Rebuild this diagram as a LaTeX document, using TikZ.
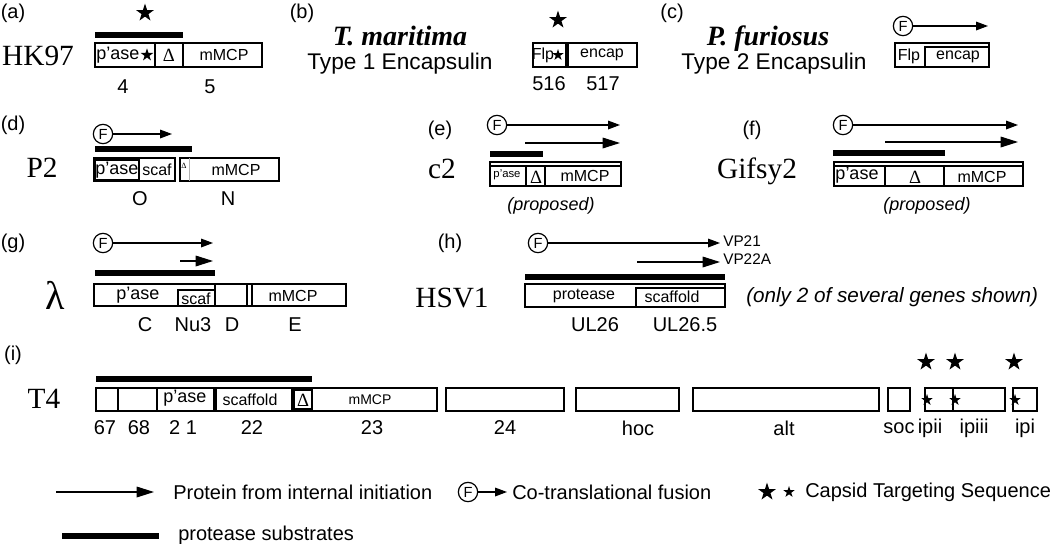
\documentclass[tikz,border=0pt]{standalone}
\usepackage{fontspec}
\setmainfont{Liberation Serif}
\setsansfont{Liberation Sans}
\usetikzlibrary{arrows.meta,shapes.geometric}

\begin{document}
\begin{tikzpicture}[x=0.75pt,y=0.75pt,yscale=-1,xscale=1,
    pnl/.style={font=\sffamily\fontsize{15}{18}\selectfont,inner sep=0.75pt},
    phg/.style={font=\fontsize{22}{26}\selectfont,inner sep=0.75pt,anchor=base},
    spc/.style={font=\bfseries\itshape\fontsize{21}{24}\selectfont,inner sep=0.75pt,anchor=base},
    enc/.style={font=\sffamily\fontsize{17}{20}\selectfont,inner sep=0.75pt,anchor=base},
    gnum/.style={font=\sffamily\fontsize{15}{18}\selectfont,inner sep=0.75pt},
    inb/.style={font=\sffamily\fontsize{12}{14}\selectfont,inner sep=0.75pt},
    inbl/.style={font=\sffamily\fontsize{13.5}{15}\selectfont,inner sep=0.75pt},
    inbs/.style={font=\sffamily\fontsize{8.5}{10}\selectfont,inner sep=0.75pt},
    vpl/.style={font=\sffamily\fontsize{11.5}{13}\selectfont,inner sep=0.75pt,anchor=west},
    dlt/.style={font=\fontsize{14}{16}\selectfont,inner sep=0.75pt},
    note/.style={font=\sffamily\itshape\fontsize{13.5}{16}\selectfont,inner sep=0.75pt},
    gbox/.style={line width=0.9pt},
    subs/.style={line width=4.5pt},
    fusn/.style={draw,circle,line width=0.9pt,inner sep=0pt,minimum size=14.5pt,font=\sffamily\fontsize{11}{11}\selectfont},
    bstar/.style={star,star points=5,star point ratio=2.6,fill=black,inner sep=0pt,minimum size=14pt},
    sstar/.style={star,star points=5,star point ratio=2.6,fill=black,inner sep=0pt,minimum size=9pt},
    arw/.style={-{Triangle[length=9pt,width=6.5pt]},line width=0.9pt},
    barw/.style={-{Triangle[length=13pt,width=8pt]},line width=0.9pt}]
\useasboundingbox (0,0) rectangle (1050,543);

%Panel (a) HK97
\node[pnl] (lblA) at (13,13) {(a)};
\node[phg] (hk) at (38,65) {HK97};
\node[bstar] (sA) at (145,13) {};
\draw[subs] (95,35) -- (183,35);
%Shape: Rectangle
\draw[gbox] (95,43) rectangle (262,67);
\draw[gbox] (155,43) -- (155,67) (183,43) -- (183,67);
% Text Node
\node[inbl] (tA1) at (118,55) {p'ase};
\node[sstar,minimum size=10pt] (sA1) at (147,55) {};
\node[dlt] (tA2) at (169,55) {Δ};
\node[inb] (tA3) at (224,55) {mMCP};
\node[gnum] (gA1) at (123,87) {4};
\node[gnum] (gA2) at (210,87) {5};

%Panel (b) T. maritima
\node[pnl] (lblB) at (302,13) {(b)};
\node[spc] (tmar) at (400,45) {T. maritima};
\node[enc] (typ1) at (400,69) {Type 1 Encapsulin};
\node[bstar] (sB) at (558,20) {};
%Shape: Rectangle
\draw[gbox] (533,43) rectangle (566,67);
\draw[gbox] (568,43) rectangle (637,67);
% Text Node
\node[inb] (tB1) at (543,55) {Flp};
\node[sstar] (sB1) at (558,55) {};
\node[inb] (tB2) at (602,55) {encap};
\node[gnum] (gB1) at (549,84) {516};
\node[gnum] (gB2) at (603,84) {517};

%Panel (c) P. furiosus
\node[pnl] (lblC) at (672,13) {(c)};
\node[spc] (pfur) at (768,45) {P. furiosus};
\node[enc] (typ2) at (774,69) {Type 2 Encapsulin};
\node[fusn] (fC) at (903,26) {F};
\coordinate (fCe) at (988,26);
\draw[arw] (fC) -- (fCe);
%Shape: Rectangle
\draw[gbox] (895,43) rectangle (989,67);
\draw[gbox] (925,67) -- (925,47) -- (989,47);
% Text Node
\node[inb] (tC1) at (909,56) {Flp};
\node[inb] (tC2) at (958,57) {encap};

%Panel (d) P2
\node[pnl] (lblD) at (13,125) {(d)};
\node[phg] (ptwo) at (42,177) {P2};
\node[fusn] (fD) at (103,134) {F};
\coordinate (fDe) at (172,134);
\draw[arw] (fD) -- (fDe);
\draw[subs] (95,149) -- (192,149);
%Shape: Rectangle
\draw[gbox] (94,158) rectangle (175,181);
\draw[gbox] (95,160) rectangle (139,180);
\draw[gbox] (180,158) rectangle (279,181);
\draw[gray!60] (189,158) -- (189,181);
% Text Node
\node[inbl] (tD1) at (117,170) {p'ase};
\node[inb] (tD2) at (157,170) {scaf};
\node[dlt,font=\fontsize{6}{6}\selectfont] (tD3) at (184,166) {Δ};
\node[inb] (tD4) at (236,170) {mMCP};
\node[gnum] (gD1) at (140,199) {O};
\node[gnum] (gD2) at (228,199) {N};

%Panel (e) c2
\node[pnl] (lblE) at (440,130) {(e)};
\node[phg] (ctwo) at (442,178) {c2};
\node[fusn] (fE) at (497,125) {F};
\coordinate (fEe) at (620,125);
\draw[arw] (fE) -- (fEe);
\coordinate (iE) at (525,143);
\coordinate (iEe) at (620,143);
\draw[barw] (iE) -- (iEe);
\draw[subs] (490,154) -- (543,154);
%Shape: Rectangle
\draw[gbox] (490,162) rectangle (621,186);
\draw[gbox] (490,166) -- (621,166);
\draw[gbox] (526,166) -- (526,186) (545,166) -- (545,186);
% Text Node
\node[inbs] (tE1) at (507,175) {p'ase};
\node[dlt] (tE2) at (536,177) {Δ};
\node[inb] (tE3) at (585,176) {mMCP};
\node[note] (nE) at (551,206) {(proposed)};

%Panel (f) Gifsy2
\node[pnl] (lblF) at (752,130) {(f)};
\node[phg] (gif) at (757,178) {Gifsy2};
\node[fusn] (fF) at (843,125) {F};
\coordinate (fFe) at (1018,125);
\draw[arw] (fF) -- (fFe);
\coordinate (iF) at (885,142);
\coordinate (iFe) at (1018,142);
\draw[barw] (iF) -- (iFe);
\draw[subs] (833,153) -- (945,153);
%Shape: Rectangle
\draw[gbox] (834,162) rectangle (1023,186);
\draw[gbox] (834,166) -- (1023,166);
\draw[gbox] (885,166) -- (885,186) (944,166) -- (944,186);
% Text Node
\node[inbl] (tF1) at (857,175) {p'ase};
\node[dlt] (tF2) at (915,177) {Δ};
\node[inb] (tF3) at (982,177) {mMCP};
\node[note] (nF) at (927,206) {(proposed)};

%Panel (g) lambda
\node[pnl] (lblG) at (13,243) {(g)};
\node[phg,font=\fontsize{30}{32}\selectfont] (lam) at (55,309) {λ};
\node[fusn] (fG) at (103,243) {F};
\coordinate (fGe) at (213,243);
\draw[arw] (fG) -- (fGe);
\coordinate (iG) at (180,261);
\coordinate (iGe) at (213,261);
\draw[barw] (iG) -- (iGe);
\draw[subs] (95,273) -- (215,273);
%Shape: Rectangle
\draw[gbox] (94,284) rectangle (346,306);
\draw[gbox] (215,284) -- (215,306) (247,284) -- (247,306) (252,284) -- (252,306);
\draw[gbox] (178,306) -- (178,290) -- (215,290);
% Text Node
\node[inbl] (tG1) at (138,295) {p'ase};
\node[inb] (tG2) at (196,299) {scaf};
\node[inb] (tG3) at (293,296) {mMCP};
\node[gnum] (gG1) at (145,325) {C};
\node[gnum] (gG2) at (193,325) {Nu3};
\node[gnum] (gG3) at (232,325) {D};
\node[gnum] (gG4) at (295,325) {E};

%Panel (h) HSV1
\node[pnl] (lblH) at (450,243) {(h)};
\node[phg] (hsv) at (452,307) {HSV1};
\node[fusn] (fH) at (538,243) {F};
\coordinate (fHe) at (720,243);
\draw[arw] (fH) -- (fHe);
\node[vpl] (vpa) at (722,241) {VP21};
\coordinate (iH) at (637,262);
\coordinate (iHe) at (720,262);
\draw[barw] (iH) -- (iHe);
\node[vpl] (vpb) at (722,259) {VP22A};
\draw[subs] (525,277) -- (725,277);
%Shape: Rectangle
\draw[gbox] (525,284) rectangle (725,307);
\draw[gbox] (636,307) -- (636,288) -- (725,288);
% Text Node
\node[inb] (tH1) at (584,296) {protease};
\node[inb] (tH2) at (672,297) {scaffold};
\node[gnum] (gH1) at (595,325) {UL26};
\node[gnum] (gH2) at (685,325) {UL26.5};
\node[note,font=\sffamily\itshape\fontsize{15.5}{18}\selectfont,anchor=west] (nH) at (745,297) {(only 2 of several genes shown)};

%Panel (i) T4
\node[pnl] (lblI) at (13,355) {(i)};
\node[phg] (tfour) at (44,408) {T4};
\draw[subs] (96,379) -- (312,379);
%Shape: Rectangle
\draw[gbox] (96,388) rectangle (437,411);
\draw[gbox] (118,388) -- (118,411) (157,388) -- (157,411) (214,388) -- (214,411) (216,388) -- (216,411) (292,388) -- (292,411);
\draw[gbox] (294,390) rectangle (312,409);
\draw[gbox] (446,388) rectangle (564,411);
\draw[gbox] (576,388) rectangle (679,411);
\draw[gbox] (693,388) rectangle (879,411);
\draw[gbox] (888,388) rectangle (910,411);
\draw[gbox] (925,388) rectangle (1005,411);
\draw[gbox] (953,388) -- (953,411);
\draw[gbox] (1013,388) rectangle (1037,411);
% Text Node
\node[inbl] (tI1) at (185,398) {p'ase};
\node[inb] (tI2) at (250,400) {scaffold};
\node[dlt] (tI3) at (303,400) {Δ};
\node[inb,font=\sffamily\fontsize{10.5}{12}\selectfont] (tI4) at (370,400) {mMCP};
\node[sstar] (sI1) at (927,400) {};
\node[sstar] (sI2) at (955,400) {};
\node[sstar] (sI3) at (1015,400) {};
\node[bstar] (sI4) at (926,362) {};
\node[bstar] (sI5) at (955,362) {};
\node[bstar] (sI6) at (1014,362) {};
\node[gnum] (gI1) at (105,428) {67};
\node[gnum] (gI2) at (139,428) {68};
\node[gnum] (gI3) at (183,428) {2 1};
\node[gnum] (gI4) at (252,428) {22};
\node[gnum] (gI5) at (372,428) {23};
\node[gnum] (gI6) at (505,428) {24};
\node[gnum] (gI7) at (638,428) {hoc};
\node[gnum] (gI8) at (784,428) {alt};
\node[gnum] (gI9) at (899,428) {soc};
\node[gnum] (gI10) at (930,428) {ipii};
\node[gnum] (gI11) at (974,428) {ipiii};
\node[gnum] (gI12) at (1025,428) {ipi};

%Legend
\coordinate (lgA) at (56,492);
\coordinate (lgAe) at (154,492);
\draw[barw] (lgA) -- (lgAe);
\node[pnl,anchor=west] (lgT1) at (172,492) {Protein from internal initiation};
\node[fusn] (lgF) at (468,492) {F};
\coordinate (lgFe) at (507,492);
\draw[arw] (lgF) -- (lgFe);
\node[pnl,anchor=west] (lgT2) at (511,492) {Co-translational fusion};
\node[bstar] (lgS1) at (767,492) {};
\node[sstar] (lgS2) at (789,492) {};
\node[pnl,anchor=west] (lgT3) at (804,492) {Capsid Targeting Sequence};
\draw[subs] (62,536) -- (159,536);
\node[pnl,anchor=west] (lgT4) at (177,535) {protease substrates};
\end{tikzpicture}
\end{document}
